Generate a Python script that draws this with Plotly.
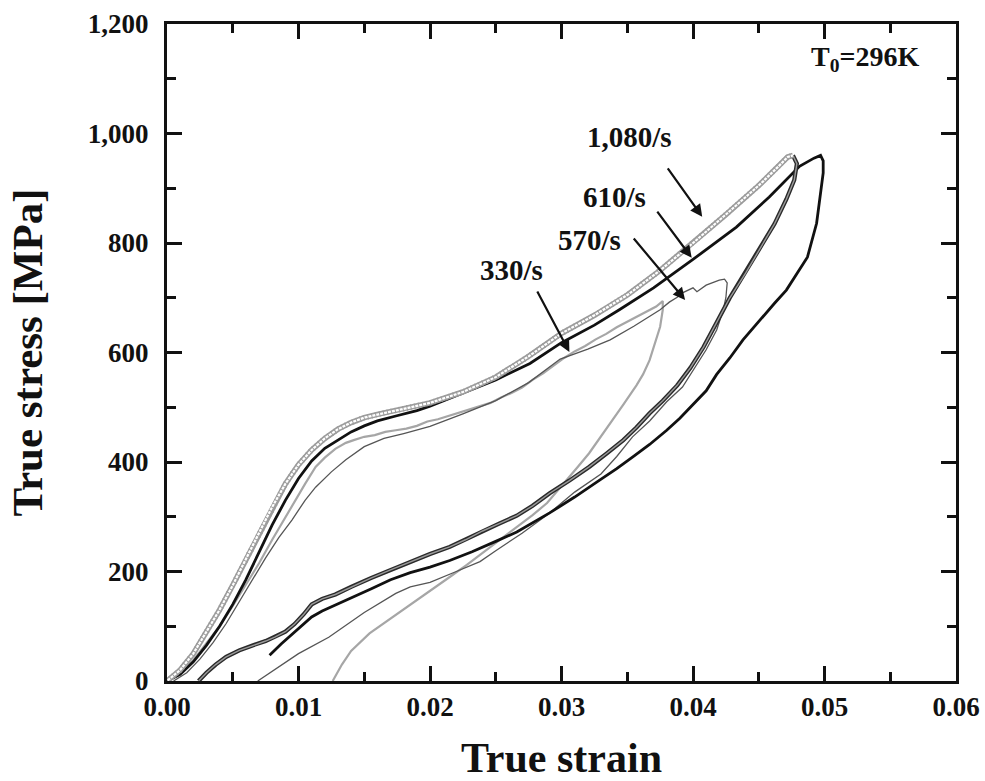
import plotly.graph_objects as go

# ---- 1,080/s : loading branch (open-circle trace) and unloading branch ----
strain_1080_load = [0.0, 0.001, 0.002, 0.003, 0.004, 0.005, 0.006, 0.007, 0.008, 0.009,
                    0.010, 0.011, 0.012, 0.013, 0.014, 0.015, 0.016, 0.017, 0.018, 0.019,
                    0.020, 0.0225, 0.025, 0.0275, 0.030, 0.0325, 0.035, 0.0375, 0.040,
                    0.0425, 0.045, 0.0465, 0.0472, 0.0476]
stress_1080_load = [0, 20, 50, 90, 130, 175, 222, 270, 318, 360,
                    395, 422, 443, 460, 472, 481, 487, 492, 497, 502,
                    508, 528, 555, 593, 635, 668, 705, 750, 800,
                    852, 905, 940, 957, 960]
strain_1080_unload = [0.0476, 0.0479, 0.0477, 0.0471, 0.0462, 0.0452, 0.0440, 0.0428, 0.0418,
                      0.0408, 0.0398, 0.0388, 0.0377, 0.0367, 0.0357, 0.0347, 0.0334, 0.0321,
                      0.0306, 0.0291, 0.0278, 0.0266, 0.0253, 0.0240, 0.0227, 0.0215, 0.0200,
                      0.0185, 0.0170, 0.0155, 0.0140, 0.0128, 0.0118, 0.0110, 0.0104, 0.0097,
                      0.0090, 0.0082, 0.0075, 0.0065, 0.0055, 0.0045, 0.0037, 0.0030, 0.0024]
stress_1080_unload = [960, 945, 915, 880, 835, 795, 745, 700, 655,
                      610, 572, 540, 512, 489, 463, 440, 415, 391,
                      366, 343, 320, 302, 288, 274, 258, 245, 232,
                      218, 203, 188, 172, 158, 150, 140, 122, 104,
                      90, 80, 73, 65, 56, 44, 30, 15, 0]

# ---- 610/s ----
strain_610 = [0.0, 0.001, 0.002, 0.003, 0.004, 0.005, 0.006, 0.007, 0.008, 0.009,
              0.010, 0.011, 0.012, 0.013, 0.014, 0.015, 0.016, 0.0174, 0.019, 0.020,
              0.0225, 0.025, 0.0276, 0.030, 0.0325, 0.0344, 0.037, 0.040, 0.0433, 0.0458,
              0.0481, 0.0492, 0.0497,
              0.0499, 0.0499, 0.0494, 0.0487, 0.0479, 0.0471, 0.0462, 0.0453, 0.0445, 0.0438,
              0.0428, 0.0418, 0.0410, 0.0400, 0.0390, 0.0380, 0.0367, 0.0354, 0.0342, 0.0329,
              0.0310, 0.0291, 0.0278, 0.0266, 0.0250, 0.0232, 0.0215, 0.0200, 0.0185, 0.0170,
              0.0155, 0.0140, 0.0128, 0.0118, 0.0110, 0.0102, 0.0095, 0.0087, 0.0078]
stress_610 = [0, 12, 35, 65, 100, 140, 185, 235, 285, 330,
              370, 402, 425, 440, 455, 466, 475, 484, 494, 502,
              526, 550, 580, 618, 650, 678, 718, 770, 829, 884,
              940, 955, 960,
              950, 928, 836, 774, 745, 714, 690, 665, 643, 623,
              590, 560, 530, 505, 480, 458, 432, 409, 388, 367,
              336, 307, 288, 272, 255, 236, 220, 208, 198, 185,
              168, 152, 138, 128, 117, 100, 86, 68, 47]

# ---- 570/s ----
strain_570 = [0.0005, 0.0015, 0.0025, 0.0035, 0.0045, 0.0055, 0.0065, 0.0075, 0.0085, 0.0095,
              0.0105, 0.0113, 0.0125, 0.0136, 0.0150, 0.0165, 0.0180, 0.0200, 0.0225, 0.0250,
              0.0275, 0.0299, 0.0320, 0.0337, 0.0355, 0.0375, 0.0382, 0.0388, 0.0392, 0.0400,
              0.0403, 0.0410, 0.0420, 0.0424, 0.0426, 0.0425, 0.0423, 0.0418, 0.0410, 0.0400,
              0.0392, 0.0380, 0.0367, 0.0354, 0.0342, 0.0330, 0.0310, 0.0290, 0.0270, 0.0250,
              0.0238, 0.0220, 0.0200, 0.0185, 0.0174, 0.0150, 0.0123, 0.0100, 0.0085, 0.0069]
stress_570 = [0, 15, 40, 70, 105, 145, 185, 225, 262, 294,
              330, 354, 382, 404, 428, 443, 452, 465, 488, 512,
              545, 588, 606, 623, 648, 678, 692, 701, 709, 718,
              711, 723, 732, 734, 727, 700, 678, 641, 605, 568,
              537, 510, 475, 446, 410, 378, 345, 305, 270, 238,
              218, 200, 180, 172, 160, 125, 80, 50, 25, 0]

# ---- 330/s ----
strain_330 = [0.0, 0.001, 0.002, 0.003, 0.004, 0.005, 0.006, 0.007, 0.008, 0.0095,
              0.0105, 0.0113, 0.0120, 0.0128, 0.0136, 0.0142, 0.0150, 0.0158, 0.0166, 0.0174,
              0.0182, 0.0190, 0.0198, 0.0206, 0.0214, 0.0222, 0.0230, 0.0238, 0.0246, 0.0254,
              0.0262, 0.0270, 0.0278, 0.0286, 0.0294, 0.0302, 0.0310, 0.0318, 0.0326, 0.0334,
              0.0342, 0.0350, 0.0358, 0.0366, 0.0372, 0.0377,
              0.0377, 0.0375, 0.0371, 0.0367, 0.0362, 0.0357, 0.0347, 0.0337, 0.0329, 0.0321,
              0.0312, 0.0304, 0.0296, 0.0289, 0.0278, 0.0266, 0.0253, 0.0240, 0.0228, 0.0215,
              0.0200, 0.0185, 0.0170, 0.0154, 0.0140, 0.0133, 0.0126]
stress_330 = [0, 15, 38, 68, 100, 137, 175, 215, 258, 320,
              360, 391, 408, 424, 435, 440, 446, 449, 455, 458,
              461, 466, 474, 478, 484, 490, 495, 502, 508, 518,
              526, 536, 550, 562, 576, 590, 602, 612, 624, 634,
              646, 656, 666, 676, 684, 694,
              678, 647, 615, 586, 560, 540, 505, 471, 443, 416,
              390, 367, 345, 325, 303, 281, 258, 234, 212, 190,
              165, 140, 115, 87, 55, 30, 0]

rate_labels = ["1,080/s", "610/s", "570/s", "330/s"]
x_tick_vals = [0.00, 0.01, 0.02, 0.03, 0.04, 0.05, 0.06]
y_tick_vals = [0, 200, 400, 600, 800, 1000, 1200]

FONT = "Liberation Serif"
fig = go.Figure()

# 330/s - light gray, noisy trace
fig.add_trace(go.Scatter(x=strain_330, y=stress_330, mode="lines",
                         line=dict(color="#a6a6a6", width=2.2), name="330/s"))
# 570/s - thin dark gray trace
fig.add_trace(go.Scatter(x=strain_570, y=stress_570, mode="lines",
                         line=dict(color="#555555", width=1.3), name="570/s"))
# 610/s - solid black trace
fig.add_trace(go.Scatter(x=strain_610, y=stress_610, mode="lines",
                         line=dict(color="#111111", width=2.8), name="610/s"))
# 1,080/s unloading - dark hollow tube
fig.add_trace(go.Scatter(x=strain_1080_unload, y=stress_1080_unload, mode="lines",
                         line=dict(color="#2a2a2a", width=4.2), name="1,080/s"))
fig.add_trace(go.Scatter(x=strain_1080_unload, y=stress_1080_unload, mode="lines",
                         line=dict(color="#9a9a9a", width=1.4), showlegend=False))
# 1,080/s loading - chain of small open circles
fig.add_trace(go.Scatter(x=strain_1080_load, y=stress_1080_load, mode="lines",
                         line=dict(color="#9c9c9c", width=5.5), showlegend=False))
fig.add_trace(go.Scatter(x=strain_1080_load, y=stress_1080_load, mode="lines",
                         line=dict(color="#ffffff", width=2.2), showlegend=False))
fig.add_trace(go.Scatter(x=strain_1080_load, y=stress_1080_load, mode="lines",
                         line=dict(color="#9c9c9c", width=5.5, dash="1px,3px"),
                         showlegend=False))

# rate labels with arrows: (text x, text y, tail x, tail y, tip x, tip y)
label_geom = [
    (0.0352, 994, 0.0380, 939, 0.0407, 848),
    (0.0340, 884, 0.0372, 860, 0.0399, 773),
    (0.0321, 805, 0.0354, 811, 0.0394, 696),
    (0.0262, 751, 0.0281, 714, 0.0306, 601),
]
annotations = []
for lab, (tx, ty, ax0, ay0, x1, y1) in zip(rate_labels, label_geom):
    annotations.append(dict(x=tx, y=ty, xref="x", yref="y", text=lab, showarrow=False,
                            font=dict(family=FONT, size=29, color="#111", weight="bold")))
    annotations.append(dict(x=x1, y=y1, ax=ax0, ay=ay0, xref="x", yref="y",
                            axref="x", ayref="y", text="", showarrow=True,
                            arrowhead=2, arrowsize=1.1, arrowwidth=2.2, arrowcolor="#111"))
annotations.append(dict(x=0.9557, y=0.948, xref="paper", yref="paper", xanchor="right",
                        yanchor="middle", showarrow=False,
                        text="T<sub>0</sub>=296K",
                        font=dict(family=FONT, size=28, color="#111", weight="bold")))

axis_common = dict(showline=True, linewidth=3, linecolor="#111", mirror="allticks",
                   ticks="inside", ticklen=15, tickwidth=2.5, tickcolor="#111",
                   showgrid=False, zeroline=False, automargin=False,
                   tickfont=dict(family=FONT, size=27, color="#111", weight="bold"))

fig.update_layout(
    width=985, height=781,
    margin=dict(l=167, r=29, t=24, b=100),
    paper_bgcolor="white", plot_bgcolor="white",
    showlegend=False,
    annotations=annotations,
    xaxis=dict(range=[0, 0.06], tickvals=x_tick_vals, tickformat=".2f",
               ticklabelstandoff=0,
               minor=dict(dtick=0.005, ticks="inside", ticklen=9, tickwidth=2.5,
                          tickcolor="#111"),
               title=dict(text="True strain", standoff=40,
                          font=dict(family=FONT, size=42, color="#111", weight="bold")),
               **axis_common),
    yaxis=dict(range=[0, 1200], tickvals=y_tick_vals, tickformat=",d",
               ticklabelstandoff=10,
               minor=dict(dtick=100, ticks="inside", ticklen=9, tickwidth=2.5,
                          tickcolor="#111"),
               title=dict(text="True stress [MPa]", standoff=32,
                          font=dict(family=FONT, size=43, color="#111", weight="bold")),
               **axis_common),
)

fig.write_html("out.html")
